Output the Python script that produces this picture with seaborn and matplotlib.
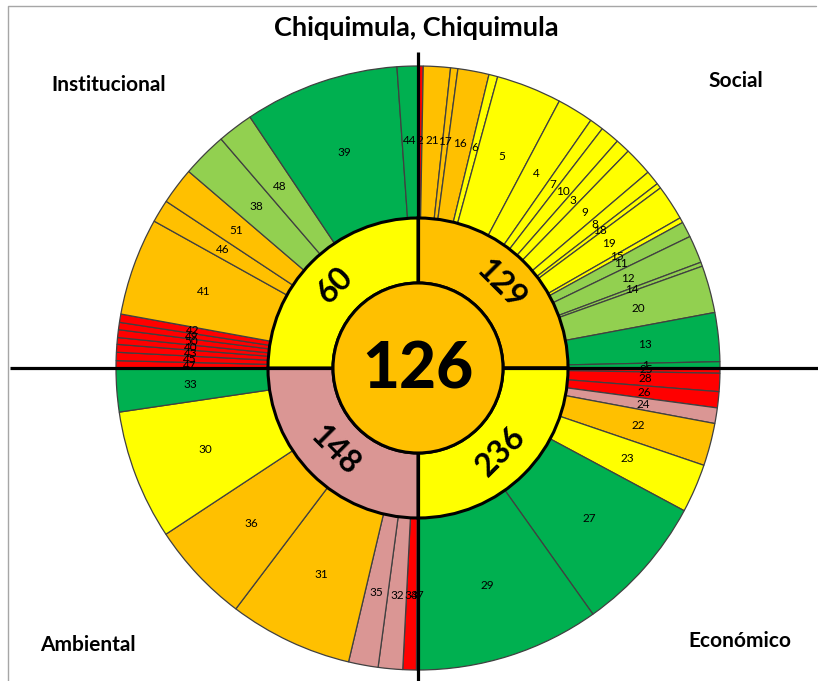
import matplotlib
matplotlib.use("Agg")
import matplotlib.pyplot as plt
import seaborn as sns
import numpy as np

# ---------------- data ----------------
social_ids = ['2', '21', '17', '16', '6', '5', '4', '7', '10', '3', '9', '8', '18', '19', '15', '11', '12', '14', '20', '13', '1']
social_deg = [1.0, 5.2, 1.4, 6.0, 1.7, 12.6, 7.0, 2.7, 3.7, 2.8, 5.5, 2.8, 1.0, 6.8, 1.0, 3.0, 5.3, 0.8, 9.1, 9.4, 1.2]
social_col = ['R', 'O', 'O', 'O', 'Y', 'Y', 'Y', 'Y', 'Y', 'Y', 'Y', 'Y', 'Y', 'Y', 'Y', 'LG', 'LG', 'LG', 'LG', 'G', 'G']

econ_ids = ['25', '28', '26', '24', '22', '23', '27', '29']
econ_deg = [1.0, 3.5, 3.1, 3.0, 8.2, 9.4, 26.4, 35.4]
econ_col = ['R', 'R', 'R', 'P', 'O', 'Y', 'G', 'G']

amb_ids = ['37', '34', '32', '35', '31', '36', '30', '33']
amb_deg = [0.3, 2.6, 4.7, 5.7, 23.8, 19.5, 25.0, 8.4]
amb_col = ['R', 'R', 'P', 'P', 'O', 'O', 'Y', 'G']

inst_ids = ['47', '45', '43', '40', '50', '49', '42', '41', '46', '51', '38', '48', '39', '44']
inst_deg = [1.4, 1.6, 1.5, 1.3, 1.5, 1.4, 1.6, 18.8, 4.4, 7.1, 8.7, 6.9, 29.8, 4.0]
inst_col = ['R', 'R', 'R', 'R', 'R', 'R', 'R', 'O', 'O', 'O', 'LG', 'LG', 'G', 'G']

dim_names = ['Social', 'Económico', 'Ambiental', 'Institucional']
dim_scores = [129, 236, 148, 60]
dim_col = ['O', 'Y', 'P', 'Y']
overall = 126
title = 'Chiquimula, Chiquimula'

palette = {'R': '#FF0000', 'O': '#FFC000', 'Y': '#FFFF00',
           'LG': '#92D050', 'G': '#00B050', 'P': '#DA9694'}

# ---------------- style ----------------
sns.set_theme(style='white')
plt.rcParams['font.family'] = ['Lato', 'DejaVu Sans']
plt.rcParams['text.color'] = 'black'

W, H = 818, 681
fig = plt.figure(figsize=(W / 100, H / 100), dpi=100)
ax = fig.add_axes([0, 0, 1, 1])

cx, cy = 418, H - 368
R_out, R_mid, R_in = 302, 150, 85

ids = social_ids + econ_ids + amb_ids + inst_ids
degs = social_deg + econ_deg + amb_deg + inst_deg
cols = [palette[c] for c in social_col + econ_col + amb_col + inst_col]

# outer ring (indicators)
ax.pie(degs, colors=cols, startangle=90, counterclock=False, radius=R_out,
       center=(cx, cy), labels=ids, labeldistance=228 / R_out,
       wedgeprops=dict(width=R_out - R_mid, edgecolor='#404040', linewidth=0.9),
       textprops=dict(ha='center', va='center', fontsize=8.5, color='black'))

# middle ring (dimensions)
quad = [sum(social_deg), sum(econ_deg), sum(amb_deg), sum(inst_deg)]
ax.pie(quad, colors=[palette[c] for c in dim_col], startangle=90, counterclock=False,
       radius=R_mid, center=(cx, cy),
       wedgeprops=dict(width=R_mid - R_in, edgecolor='black', linewidth=2.2))

# cross lines
ax.plot([10, W], [cy, cy], color='black', lw=2.3, zorder=3, solid_capstyle='butt')
ax.plot([cx, cx], [H - 52, 0], color='black', lw=2.3, zorder=3, solid_capstyle='butt')

# centre circle
ax.add_patch(plt.Circle((cx, cy), R_in, facecolor=palette['O'], edgecolor='black',
                        lw=2.2, zorder=4))
ax.text(cx, cy - 2, str(overall), ha='center', va='center', fontsize=46,
        fontweight='black', color='black', zorder=5)

# dimension labels on middle ring
cum = np.cumsum([0] + quad)
r_lab = (R_mid + R_in) / 2
for i, s in enumerate(dim_scores):
    mid = (cum[i] + cum[i + 1]) / 2          # clockwise from top
    math_ang = 90 - mid
    x = cx + r_lab * np.cos(np.radians(math_ang))
    y = cy + r_lab * np.sin(np.radians(math_ang))
    rot = math_ang - 90
    while rot > 90:
        rot -= 180
    while rot < -90:
        rot += 180
    ax.text(x, y, str(s), ha='center', va='center', rotation=rot,
            rotation_mode='anchor', fontsize=23, fontweight='bold',
            color='black', zorder=5)

# titles
ax.text(416, H - 28, title, ha='center', va='center', fontsize=19.5, fontweight='bold')
ax.text(109, H - 85, dim_names[3], ha='center', va='center', fontsize=15, fontweight='bold')
ax.text(736, H - 81, dim_names[0], ha='center', va='center', fontsize=15, fontweight='bold')
ax.text(88, H - 645, dim_names[2], ha='center', va='center', fontsize=15, fontweight='bold')
ax.text(740, H - 641, dim_names[1], ha='center', va='center', fontsize=15, fontweight='bold')

# frame
ax.plot([8, 8, W - 2], [0, H - 6, H - 6], color='#A6A6A6', lw=1, zorder=0)

ax.set_xlim(0, W)
ax.set_ylim(0, H)
ax.set_aspect('equal')
ax.axis('off')

fig.savefig('out.png', dpi=100)
